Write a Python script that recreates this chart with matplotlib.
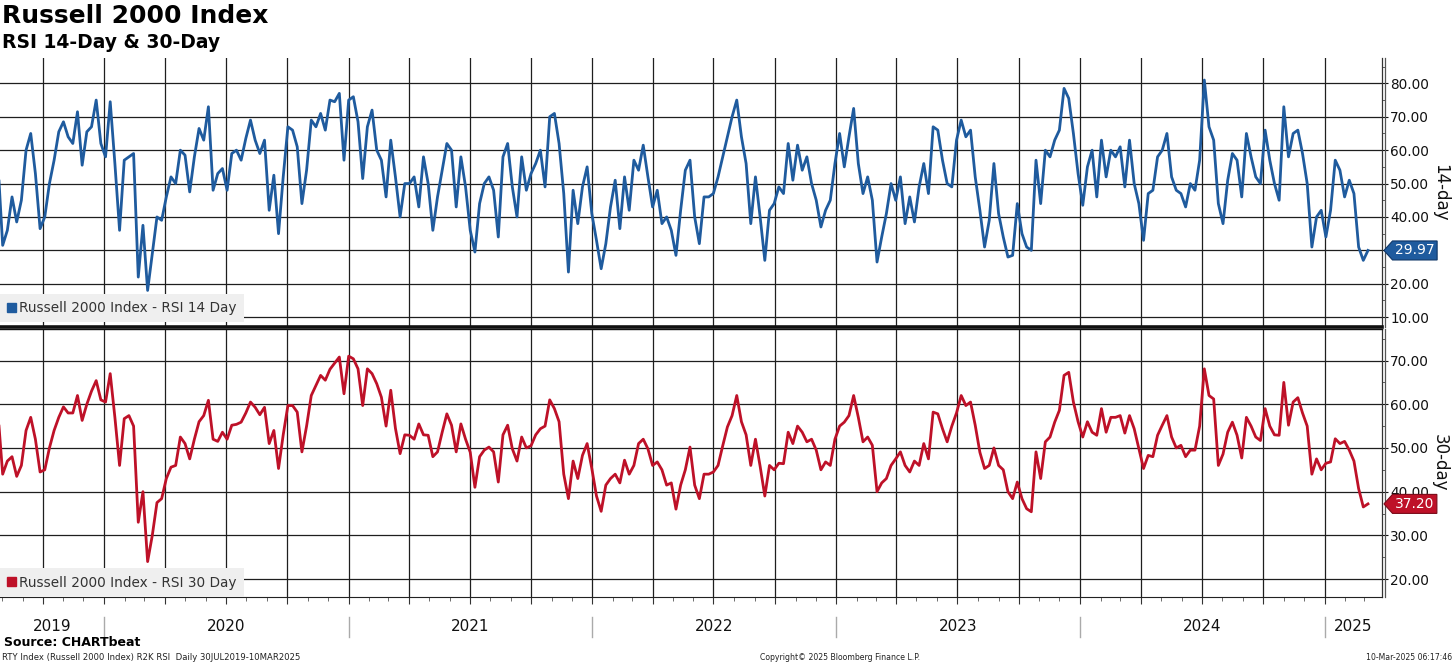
import pandas as pd
import matplotlib
matplotlib.use("Agg")
import matplotlib.pyplot as plt
import matplotlib.dates as mdates
from matplotlib.patches import Patch
from matplotlib.path import Path
from matplotlib.ticker import MultipleLocator, FuncFormatter

# weekly readings, one line per quarter (Q3 2019 .. Q1 2025)
rsi14 = [
    56, 31.5, 36, 46, 38.5, 45, 60, 65, 53,
    36.5, 40, 50, 57, 65.5, 68.5, 64, 62, 71.5, 55.5, 65.5, 67, 75,
    62, 58, 74.5, 56, 36, 57, 58, 59, 22, 37.5, 18, 29, 40,
    39, 46, 52, 50, 60, 58.5, 47.5, 58, 66.5, 63, 73, 48, 53,
    54.5, 48, 59, 60, 57, 63.5, 69, 63, 59, 63, 42, 52.5, 35,
    52, 67, 66, 61, 44, 54, 69, 67, 71, 66, 75, 74.5, 77,
    57, 75, 76, 68.5, 51.5, 67, 72, 60, 57, 46, 63, 52, 40,
    50, 50, 52, 43, 58, 50, 36, 46, 54, 62, 60, 43, 58,
    49, 36, 29.5, 44, 50, 52, 48, 34, 58, 62, 49, 40, 58,
    48, 53, 56, 60, 49, 70, 71, 62, 47, 23.5, 48, 38, 49,
    55, 41, 33, 24.5, 32, 43, 51, 36.5, 52, 42, 57, 54, 61.5,
    52, 43, 48, 38, 40, 36, 28.5, 42, 54, 57, 40, 32, 46,
    46, 47, 52, 58, 64, 70, 75, 64, 56, 38, 52, 40, 27,
    42, 44, 49, 47, 62, 51, 61.5, 54, 58, 50, 45, 37, 42,
    45, 56, 65, 55, 64, 72.5, 56, 47, 52, 45, 26.5, 34, 41,
    50, 45, 52, 38, 46, 38.5, 49, 56, 47, 67, 66, 57, 50,
    49, 63, 69, 64, 66, 52, 42, 31, 39, 56, 41, 34, 28,
    28.5, 44, 35, 31, 30, 57, 44, 60, 58, 63, 66, 78.5, 75.5,
    65, 53, 43.5, 55, 60, 46, 63, 52, 60, 58, 61, 49, 63,
    50, 44, 33, 47, 48, 58, 60, 65, 52, 48, 47, 43, 50,
    48, 57, 81, 67, 63, 44, 38, 51, 59, 57, 46, 65, 58,
    52, 50, 66, 57, 50, 45, 73, 58, 65, 66, 59, 50, 31, 40,
    42, 34, 42, 57, 54, 46, 51, 47, 31, 27, 29.97,
]
rsi30 = [
    58, 44, 47, 48, 43.5, 46, 54, 57, 52,
    44.5, 45, 50, 54, 57, 59.4, 58, 58, 62, 56.3, 60, 63, 65.4,
    61, 60.5, 67, 57, 46, 56.7, 57.4, 55, 33, 40, 24, 30, 37.5,
    38.4, 43, 45.6, 46, 52.5, 51, 47.5, 52, 56, 57.4, 60.9, 52, 51.5,
    53.6, 52, 55.2, 55.4, 55.9, 58, 60.5, 59.3, 57.6, 59.3, 51, 54, 45.3,
    53, 59.7, 59.7, 58.2, 49.1, 55, 62, 64.3, 66.6, 65.5, 68, 69.4, 70.8,
    62.4, 71, 70.4, 68.1, 59.7, 68.1, 67, 64.7, 61.6, 55, 63.2, 54.5, 48.7,
    53, 52.9, 52, 55.5, 53, 52.9, 48, 49.1, 53.6, 57.8, 55.2, 49.1, 55.5,
    52, 49, 41, 48, 49.5, 50.2, 49.1, 42.2, 53, 55.2, 49.8, 47, 52.5,
    50, 50.5, 53, 54.4, 55, 61, 59, 56, 44, 38.4, 47, 43, 48.3,
    51, 45.3, 39, 35.5, 41.5, 43, 44, 42, 47.2, 44, 46, 51, 52,
    49.8, 46, 46.8, 45, 41.5, 42, 36, 41.5, 45, 50.2, 41.5, 38.4, 44,
    44, 44.5, 46, 50.5, 54.8, 57.4, 62, 56, 53, 46, 52, 45.8, 39,
    46, 45, 46.5, 46.4, 53.6, 51, 55, 53.6, 51.4, 52, 49.5, 45, 46.8,
    46, 52, 55, 55.9, 57.4, 62, 57, 51.4, 52.5, 50.6, 40, 42, 43,
    46, 47.5, 49.1, 46, 44.5, 47, 46, 51, 47.5, 58.2, 57.8, 54.4, 51.4,
    55, 58, 62, 59.7, 60.5, 55.2, 49, 45.3, 46, 50, 46, 45, 40,
    38.4, 42.2, 38.4, 36.1, 35.4, 49.1, 43, 51.4, 52.5, 55.9, 58.6, 66.6, 67.3,
    60.5, 56, 52.5, 56, 53.6, 52.9, 59, 53.6, 57, 57, 57.4, 53.4, 57.4,
    54.4, 49.8, 45.3, 48.3, 48, 52.9, 55.2, 57.4, 52.5, 50, 50.6, 48, 49.5,
    49.5, 55, 68.1, 62, 61.2, 46, 48.6, 53.6, 55.9, 52.9, 47.7, 57, 55,
    52.5, 51.7, 59, 55, 53, 52.9, 65, 55.2, 60.5, 61.5, 58, 55, 44, 47.5,
    45, 46.5, 46.8, 52.1, 51, 51.5, 49.5, 47, 40.7, 36.5, 37.2,
]
years = [2019, 2020, 2021, 2022, 2023, 2024, 2025]
label14 = "Russell 2000 Index - RSI 14 Day"
label30 = "Russell 2000 Index - RSI 30 Day"

dates14 = pd.date_range(end="2025-03-07", periods=len(rsi14), freq="7D")
dates30 = pd.date_range(end="2025-03-07", periods=len(rsi30), freq="7D")
x0, x1 = pd.Timestamp("2019-07-29"), pd.Timestamp("2025-03-28")

BLUE = "#1f5b9e"
RED = "#be1128"
plt.rcParams["font.family"] = ["DejaVu Sans"]

W, H = 1456, 665
fig = plt.figure(figsize=(W / 100, H / 100), dpi=100)


def box(top, bottom, left=0, right=1382):
    return [left / W, 1 - bottom / H, (right - left) / W, (bottom - top) / H]


def tag_box(x0, y0, width, height, mutation_size):
    pad = mutation_size * 0.18
    xa, ya = x0 - pad, y0 - pad
    xb, yb = x0 + width + pad, y0 + height + pad
    tip = (yb - ya) * 0.45
    return Path([(xa, ya), (xb, ya), (xb, yb), (xa, yb),
                 (xa - tip, (ya + yb) / 2), (xa, ya)], closed=True)


ax1 = fig.add_axes(box(58, 327.5))
ax2 = fig.add_axes(box(329.5, 597))

panels = [
    (ax1, dates14, rsi14, BLUE, "#0e3566", (6.9, 87.6), range(10, 90, 10), "14-day", label14),
    (ax2, dates30, rsi30, RED, "#7a0a18", (15.9, 77.1), range(20, 80, 10), "30-day", label30),
]

for ax, d, v, col, dark, ylim, yt, ylab, lab in panels:
    last = v[-1]
    ax.plot(d, v, color=col, lw=2.0, zorder=3)
    ax.set_xlim(x0, x1)
    ax.set_ylim(*ylim)
    ax.set_axisbelow(True)
    ax.yaxis.tick_right()
    ax.set_yticks(list(yt))
    ax.yaxis.set_minor_locator(MultipleLocator(5))
    # the tick label hidden under the last-value tag is left blank
    ax.yaxis.set_major_formatter(FuncFormatter(
        lambda t, p, last=last: "" if abs(t - last) < 1 else f"{t:.2f}"))
    ax.tick_params(axis="y", which="major", direction="out", length=4,
                   labelsize=9.8, colors="#111", pad=2)
    ax.tick_params(axis="y", which="minor", direction="out", length=2.5, color="#444")
    ax.xaxis.set_major_locator(mdates.MonthLocator(bymonth=[1, 4, 7, 10]))
    ax.xaxis.set_minor_locator(mdates.MonthLocator())
    ax.grid(True, which="major", color="#1e1e1e", lw=0.9)
    for s in ["left", "top"]:
        ax.spines[s].set_visible(False)
    ax.spines["right"].set_color("#333")
    ax.spines["right"].set_linewidth(0.9)
    ax.plot([1 + 2.5 / 1382] * 2, [0, 1], transform=ax.transAxes,
            color="#555", lw=0.9, clip_on=False)
    ax.yaxis.set_label_position("right")
    ax.set_ylabel(ylab, rotation=270, fontsize=12, labelpad=14, color="#111")

    leg = ax.legend(handles=[Patch(fc=col, ec=col, label=lab)], loc="lower left",
                    bbox_to_anchor=(0, 0), borderaxespad=0, fancybox=False,
                    facecolor="#efefef", edgecolor="none", framealpha=1,
                    handlelength=0.6, handleheight=0.6, handletextpad=0.25,
                    fontsize=9.8, borderpad=0.55)
    leg.get_texts()[0].set_color("#333")

    ax.text(1 + 13 / 1382, last, f"{last:.2f}", transform=ax.get_yaxis_transform(),
            ha="left", va="center", color="white", fontsize=10,
            bbox=dict(boxstyle=tag_box, fc=col, ec=dark, lw=0.8), zorder=6,
            clip_on=False)

leg1 = ax1.get_legend()
leg1.set_bbox_to_anchor((0, 5 / 269.5), transform=ax1.transAxes)

ax1.spines["bottom"].set_linewidth(2.6)
ax1.spines["bottom"].set_color("#111")
ax1.tick_params(axis="x", which="both", length=0, labelbottom=False)
ax2.spines["top"].set_linewidth(1.0)
ax2.spines["top"].set_visible(True)
ax2.spines["top"].set_color("#111")
ax2.spines["bottom"].set_color("#222")
ax2.tick_params(axis="x", which="major", direction="out", length=5, color="#333", labelbottom=False)
ax2.tick_params(axis="x", which="minor", direction="out", length=3, color="#555")

# year labels and separators under the bottom panel
xt = ax2.get_xaxis_transform()
for y in years:
    a = max(pd.Timestamp(f"{y}-01-01"), x0)
    b = min(pd.Timestamp(f"{y + 1}-01-01"), x1)
    ax2.text(a + (b - a) / 2, -0.112, str(y), transform=xt, ha="center",
             va="center", fontsize=11, color="#111")
    if pd.Timestamp(f"{y}-01-01") > x0:
        ax2.plot([a, a], [-0.075, -0.15], transform=xt, color="#aaaaaa",
                 lw=1, clip_on=False)

fig.text(2 / W, 1 - 4 / H, "Russell 2000 Index", fontsize=18, fontweight="bold",
         ha="left", va="top", color="#000")
fig.text(2 / W, 1 - 33 / H, "RSI 14-Day & 30-Day", fontsize=13.5, fontweight="bold",
         ha="left", va="top", color="#000")
fig.text(4 / W, 1 - 643 / H, "Source: CHARTbeat", fontsize=9, fontweight="bold",
         ha="left", va="center", color="#000")
fig.text(2 / W, 1 - 658 / H, "RTY Index (Russell 2000 Index) R2K RSI  Daily 30JUL2019-10MAR2025",
         fontsize=6.1, ha="left", va="center", color="#222")
fig.text(840 / W, 1 - 658 / H, "Copyright\u00a9 2025 Bloomberg Finance L.P.",
         fontsize=5.6, ha="center", va="center", color="#222")
fig.text(1452 / W, 1 - 658 / H, "10-Mar-2025 06:17:46",
         fontsize=5.6, ha="right", va="center", color="#222")

fig.savefig("out.png", dpi=100)
